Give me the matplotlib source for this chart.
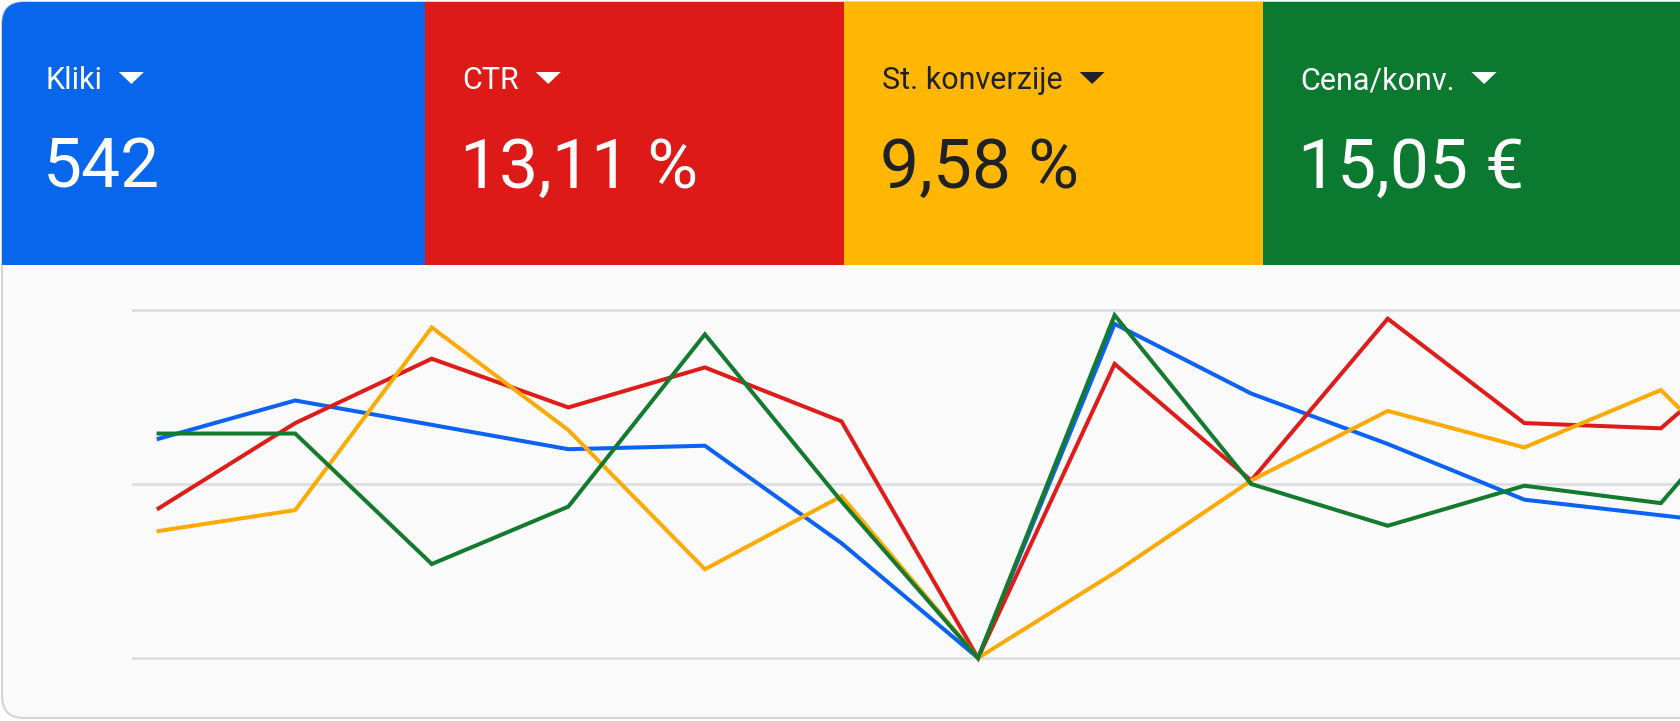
import matplotlib
matplotlib.use("Agg")
import matplotlib.pyplot as plt
from matplotlib.patches import FancyBboxPatch, Rectangle, Polygon

plt.rcParams['font.family'] = ['Roboto', 'DejaVu Sans']

# ---- data ------------------------------------------------------------------
labels = ["Kliki", "CTR", "St. konverzije", "Cena/konv."]
values = ["542", "13,11 %", "9,58 %", "15,05 €"]
days = list(range(13))
kliki = [63, 74, 67, 60, 61, 33, 0, 96, 76, 61.5, 45.5, 41, 36.5]
ctr = [43, 67.5, 86, 72, 83.5, 68, 0, 84.5, 51, 97.5, 67.5, 66, 100]
konverzije = [36.5, 42.5, 95, 65.5, 25.5, 46.5, 0, 24.5, 51, 71, 60.5, 77, 38]
cena = [64.5, 64.5, 27, 43.5, 93, 45, 0, 98.5, 50, 38, 49.5, 44.5, 90]
grid_vals = [0, 50, 100]

panel_cols = ["#0766EC", "#DD1A17", "#FFB703", "#0B7A30"]
line_cols = ["#0B62F5", "#DF1C1A", "#FDAA05", "#137A2E"]
text_cols = ["white", "white", "#202124", "white"]

W, H = 1680, 721
fig = plt.figure(figsize=(W / 100, H / 100), dpi=100)
fig.patch.set_facecolor("white")

# background axes in pixel coordinates
bg = fig.add_axes([0, 0, 1, 1])
bg.set_xlim(0, W); bg.set_ylim(H, 0); bg.axis("off")

card = FancyBboxPatch((2, 2), W + 60, 716, boxstyle="round,pad=0,rounding_size=22",
                      fc="#FAFAFA", ec="#D3D5D9", lw=1.5, zorder=1)
bg.add_patch(card)

lefts = [0, 425, 844, 1263, W]
offs = [45, 37, 38, 37]
fig.canvas.draw()
r = fig.canvas.get_renderer()
for k in range(4):
    p = Rectangle((lefts[k], 0), lefts[k + 1] - lefts[k], 265, fc=panel_cols[k], ec="none", zorder=2)
    bg.add_patch(p); p.set_clip_path(card)
    x0 = lefts[k] + offs[k]
    t = bg.text(x0, 89, labels[k], color=text_cols[k], fontsize=22, va="baseline", ha="left", zorder=3)
    bg.text(x0 - 2, 188, values[k], color=text_cols[k], fontsize=50, va="baseline", ha="left", zorder=3)
    bb = t.get_window_extent(renderer=r)
    tx = bb.x1 + 17
    bg.add_patch(Polygon([(tx, 72), (tx + 25, 72), (tx + 12.5, 84)], closed=True,
                         fc=text_cols[k], ec="none", zorder=3))

# ---- line chart --------------------------------------------------------------
ax = fig.add_axes([132 / W, (H - 680) / H, (W - 132) / W, 400 / H])
ax.patch.set_alpha(0)
for g in grid_vals:
    ax.axhline(g, color="#DADCE0", lw=1.8, zorder=1)
for s, c in zip([kliki, ctr, konverzije, cena], line_cols):
    ax.plot(days, s, color=c, lw=2.9, solid_joinstyle="miter", zorder=3)
ax.set_xlim(-0.195, 11.14)
ax.set_ylim(-6.32, 108.62)
ax.axis("off")

fig.savefig("out.png", dpi=100)
